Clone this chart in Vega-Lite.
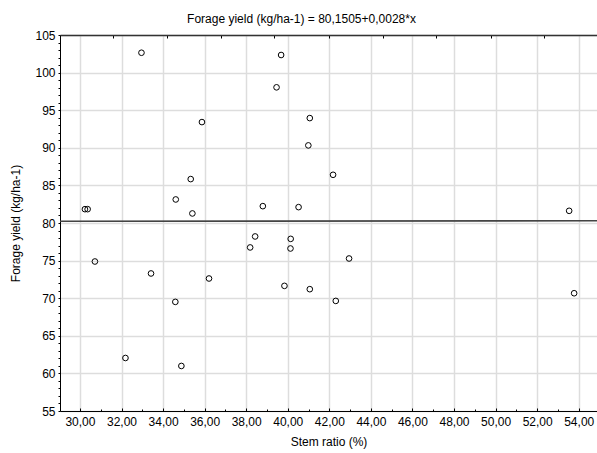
{
  "$schema": "https://vega.github.io/schema/vega-lite/v6.json",
  "width": 537,
  "height": 376,
  "autosize": "none",
  "padding": {"left": 60, "top": 35, "right": 0, "bottom": 42},
  "background": "white",
  "title": {
    "text": "Forage yield (kg/ha-1) = 80,1505+0,0028*x",
    "font": "Liberation Sans",
    "fontSize": 12,
    "fontWeight": "normal",
    "color": "black",
    "anchor": "middle",
    "offset": 3,
    "dx": -27
  },
  "config": {
    "view": {"stroke": null},
    "axis": {
      "labelFont": "Liberation Sans",
      "titleFont": "Liberation Sans",
      "labelFontSize": 12,
      "titleFontSize": 12,
      "titleFontWeight": "normal",
      "labelColor": "black",
      "titleColor": "black",
      "domainColor": "black",
      "tickColor": "black",
      "gridColor": "#dddddd",
      "gridWidth": 1.5
    }
  },
  "resolve": {"axis": {"x": "independent", "y": "independent"}},
  "layer": [
    {
      "data": {
        "values": [
          {"x": 32.96, "y": 102.64},
          {"x": 39.68, "y": 102.34},
          {"x": 39.46, "y": 98.04},
          {"x": 35.87, "y": 93.42},
          {"x": 35.33, "y": 85.84},
          {"x": 34.61, "y": 83.13},
          {"x": 35.41, "y": 81.27},
          {"x": 38.80, "y": 82.24},
          {"x": 30.24, "y": 81.84},
          {"x": 30.37, "y": 81.84},
          {"x": 40.52, "y": 82.11},
          {"x": 41.06, "y": 93.95},
          {"x": 40.99, "y": 90.32},
          {"x": 42.18, "y": 86.41},
          {"x": 53.54, "y": 81.62},
          {"x": 30.72, "y": 74.88},
          {"x": 33.42, "y": 73.29},
          {"x": 34.59, "y": 69.51},
          {"x": 32.19, "y": 62.05},
          {"x": 34.88, "y": 60.99},
          {"x": 36.21, "y": 72.62},
          {"x": 38.19, "y": 76.75},
          {"x": 38.43, "y": 78.21},
          {"x": 40.14, "y": 77.89},
          {"x": 40.13, "y": 76.61},
          {"x": 39.84, "y": 71.64},
          {"x": 41.06, "y": 71.20},
          {"x": 42.31, "y": 69.64},
          {"x": 42.95, "y": 75.28},
          {"x": 53.78, "y": 70.66}
        ]
      },
      "mark": {"type": "point", "shape": "circle", "filled": false, "stroke": "black", "strokeWidth": 1, "size": 32, "opacity": 1},
      "encoding": {
        "x": {
          "field": "x", "type": "quantitative",
          "scale": {"domain": [29.04, 54.88], "nice": false, "zero": false},
          "axis": {
            "orient": "bottom",
            "title": "Stem ratio (%)",
            "values": [30,31,32,33,34,35,36,37,38,39,40,41,42,43,44,45,46,47,48,49,50,51,52,53,54],
            "labelExpr": "datum.value % 2 === 0 ? replace(format(datum.value, '.2f'), '.', ',') : ''",
            "grid": true,
            "gridOpacity": {"condition": {"test": "datum.value % 2 === 0", "value": 1}, "value": 0},
            "tickSize": {"condition": {"test": "datum.value % 2 === 0", "value": -3}, "value": -2},
            "labelPadding": 8,
            "titlePadding": 8,
            "labelOverlap": false
          }
        },
        "y": {
          "field": "y", "type": "quantitative",
          "scale": {"domain": [55, 105], "nice": false, "zero": false},
          "axis": {
            "orient": "left",
            "title": "Forage yield (kg/ha-1)",
            "values": [55,56,57,58,59,60,61,62,63,64,65,66,67,68,69,70,71,72,73,74,75,76,77,78,79,80,81,82,83,84,85,86,87,88,89,90,91,92,93,94,95,96,97,98,99,100,101,102,103,104,105],
            "labelExpr": "datum.value % 5 === 0 ? datum.label : ''",
            "grid": true,
            "gridOpacity": {"condition": {"test": "datum.value % 5 === 0", "value": 1}, "value": 0},
            "tickSize": 2,
            "labelPadding": 3,
            "titlePadding": 12,
            "labelOverlap": false
          }
        }
      }
    },
    {
      "data": {
        "values": [
          {"x": 29.04, "y": 80.23},
          {"x": 54.88, "y": 80.30}
        ]
      },
      "mark": {"type": "line", "color": "#444444", "strokeWidth": 1.6},
      "encoding": {
        "x": {
          "field": "x", "type": "quantitative",
          "axis": {
            "orient": "top",
            "title": null,
            "labels": false,
            "grid": false,
            "values": [31.60, 34.19, 36.80, 39.36, 41.97, 44.56, 47.15, 49.76, 52.32],
            "tickSize": -3,
            "domain": true,
            "domainColor": "#333333",
            "domainWidth": 1.5
          }
        },
        "y": {"field": "y", "type": "quantitative", "axis": null}
      }
    }
  ]
}
